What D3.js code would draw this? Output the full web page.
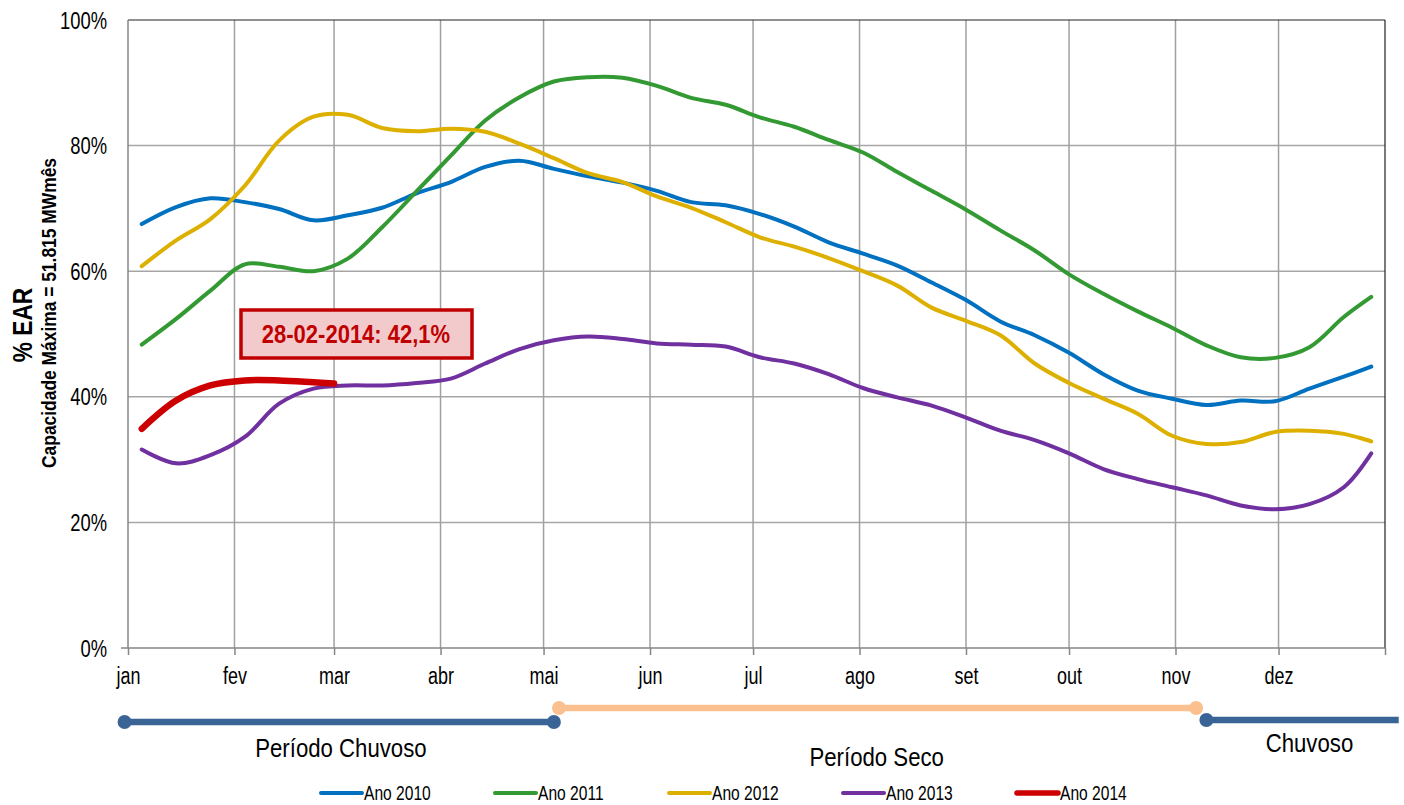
<!DOCTYPE html>
<html lang="pt">
<head>
<meta charset="UTF-8">
<title>% EAR</title>
<script src="https://d3js.org/d3.v7.min.js"></script>
<style>
  html, body { margin: 0; padding: 0; background: #fff; }
  svg { display: block; }
  text { font-family: "Liberation Sans Narrow", "Arial Narrow", "Liberation Sans", Arial, sans-serif; fill: #000; }
</style>
</head>
<body>
<div id="chart"></div>
<script>
// sample positions, days since 1 jan
const days = [4, 14, 24, 34, 44, 54, 64, 74, 84, 94, 104, 114, 124, 134, 144, 154, 164, 174, 184,
  194, 204, 214, 224, 234, 244, 254, 264, 274, 284, 294, 304, 314, 324, 334, 344, 354, 362];

const ano2010 = [67.5, 70.2, 71.6, 71.0, 69.9, 68.1, 68.9, 70.1, 72.4, 74.2, 76.6, 77.6, 76.3, 75.1, 74.1, 72.8, 71.0, 70.5, 69.1,
  67.1, 64.6, 62.8, 60.9, 58.2, 55.4, 52.0, 49.8, 47.0, 43.6, 41.0, 39.7, 38.7, 39.4, 39.3, 41.3, 43.2, 44.8];
const ano2011 = [48.3, 52.4, 56.9, 61.1, 60.7, 60.0, 62.0, 67.0, 72.7, 78.4, 84.0, 87.7, 90.2, 90.9, 90.8, 89.5, 87.6, 86.5, 84.5,
  83.0, 80.9, 78.9, 75.8, 72.8, 69.8, 66.5, 63.3, 59.5, 56.4, 53.6, 51.0, 48.2, 46.3, 46.2, 47.9, 52.7, 55.9];
const ano2012 = [60.8, 64.9, 68.3, 73.6, 80.8, 84.6, 84.9, 82.8, 82.3, 82.7, 82.2, 80.3, 78.0, 75.6, 74.2, 71.9, 70.1, 67.8, 65.4,
  63.9, 62.1, 60.0, 57.7, 54.2, 52.1, 49.8, 45.3, 42.2, 39.7, 37.3, 33.8, 32.5, 32.8, 34.4, 34.6, 34.1, 32.9];
const ano2013 = [31.6, 29.4, 30.7, 33.6, 38.9, 41.3, 41.8, 41.8, 42.2, 42.9, 45.3, 47.6, 49.0, 49.6, 49.2, 48.5, 48.3, 48.0, 46.3,
  45.3, 43.6, 41.4, 39.9, 38.6, 36.7, 34.6, 33.1, 31.0, 28.5, 26.9, 25.6, 24.3, 22.7, 22.1, 22.9, 25.6, 31.0];
const days2014 = [4, 14, 24, 34, 44, 54, 60];
const ano2014 = [34.9, 39.4, 41.8, 42.6, 42.6, 42.3, 42.1];

const seriesNames = ["Ano 2010", "Ano 2011", "Ano 2012", "Ano 2013", "Ano 2014"];
const seriesColors = ["#0070c0", "#339933", "#ddb000", "#7030a0", "#cc0000"];

const months = ["jan", "fev", "mar", "abr", "mai", "jun", "jul", "ago", "set", "out", "nov", "dez"];
const monthStarts = [0, 31, 60, 91, 121, 152, 182, 213, 244, 274, 305, 335];
const yTicks = [0, 20, 40, 60, 80, 100];

// periods under the axis (days)
const periods = [
  { label: "Período Chuvoso", start: -1, end: 124, color: "#3a6496", labelAt: 62, labelY: 757, endDot: true },
  { label: "Período Seco", start: 125.5, end: 311, color: "#fac090", labelAt: 218, labelY: 766, endDot: true },
  { label: "Chuvoso", start: 314, end: 370, color: "#3a6496", labelAt: 344, labelY: 752, endDot: false }
];
const periodY = [722, 708, 720];

const noteText = "28-02-2014: 42,1%";

const width = 1404, height = 805;
const x = d3.scaleLinear().domain([0, 366]).range([128, 1385]);
const y = d3.scaleLinear().domain([0, 100]).range([648, 20]);

// the original uses a condensed face; squeeze the regular one
function squeeze(sel, k) {
  sel.each(function () {
    const w = this.getComputedTextLength();
    if (w > 0) d3.select(this).attr("textLength", w * k).attr("lengthAdjust", "spacingAndGlyphs");
  });
}

const svg = d3.select("#chart").append("svg")
  .attr("width", width)
  .attr("height", height);

// grid
svg.append("g").selectAll("line")
  .data(yTicks.filter(d => d > 0 && d < 100))
  .join("line")
  .attr("x1", x(0)).attr("x2", x(366))
  .attr("y1", d => y(d)).attr("y2", d => y(d))
  .attr("stroke", "#a6a6a6").attr("stroke-width", 1.5);

svg.append("g").selectAll("line")
  .data(monthStarts.slice(1))
  .join("line")
  .attr("x1", d => x(d)).attr("x2", d => x(d))
  .attr("y1", y(100)).attr("y2", y(0))
  .attr("stroke", "#a0a0a0").attr("stroke-width", 1.5);

// frame
svg.append("line").attr("x1", x(0)).attr("x2", x(366)).attr("y1", y(100)).attr("y2", y(100))
  .attr("stroke", "#222").attr("stroke-width", 1.2);
svg.append("line").attr("x1", x(366)).attr("x2", x(366)).attr("y1", y(100)).attr("y2", y(0))
  .attr("stroke", "#222").attr("stroke-width", 1.2);
svg.append("line").attr("x1", x(0)).attr("x2", x(0)).attr("y1", y(100)).attr("y2", y(0))
  .attr("stroke", "#868686").attr("stroke-width", 1.5);

// x axis
const xAxis = svg.append("g")
  .attr("transform", `translate(0,${y(0)})`)
  .call(d3.axisBottom(x)
    .tickValues(monthStarts.concat([366]))
    .tickFormat((d, i) => months[i] || "")
    .tickSize(7)
    .tickSizeOuter(0));
xAxis.select(".domain").attr("stroke", "#868686").attr("stroke-width", 1.5)
  .attr("d", `M${x(0) - 7},0H${x(366)}`);
xAxis.selectAll(".tick line").attr("stroke", "#868686").attr("stroke-width", 1.5);
xAxis.attr("font-family", null);
xAxis.selectAll(".tick text")
  .attr("y", 36).attr("dy", 0)
  .attr("font-size", 23)
  .call(squeeze, 0.78);

// y axis labels
const yAxis = svg.append("g")
  .attr("transform", `translate(${x(0)},0)`)
  .call(d3.axisLeft(y).tickValues(yTicks).tickFormat(d => d + "%").tickSize(0).tickPadding(21));
yAxis.attr("font-family", null);
yAxis.select(".domain").remove();
yAxis.selectAll(".tick text").attr("font-size", 23).attr("dy", "0.35em").call(squeeze, 0.8);

// y title
svg.append("text")
  .attr("transform", "translate(22,325) rotate(-90)")
  .attr("text-anchor", "middle").attr("dy", "0.35em")
  .attr("font-weight", "bold").attr("font-size", 28)
  .text("% EAR")
  .call(squeeze, 0.81);
svg.append("text")
  .attr("transform", "translate(49,313) rotate(-90)")
  .attr("text-anchor", "middle").attr("dy", "0.35em")
  .attr("font-weight", "bold").attr("font-size", 20)
  .text("Capacidade Máxima = 51.815 MWmês")
  .call(squeeze, 0.87);

// lines
const line = d3.line()
  .x(d => x(d[0]))
  .y(d => y(d[1]))
  .curve(d3.curveCatmullRom.alpha(0.5));

const series = [
  d3.zip(days, ano2010),
  d3.zip(days, ano2011),
  d3.zip(days, ano2012),
  d3.zip(days, ano2013),
  d3.zip(days2014, ano2014)
];

svg.append("g").selectAll("path")
  .data(series)
  .join("path")
  .attr("d", line)
  .attr("fill", "none")
  .attr("stroke", (d, i) => seriesColors[i])
  .attr("stroke-width", (d, i) => i === 4 ? 6.5 : 4)
  .attr("stroke-linecap", "round")
  .attr("stroke-linejoin", "round");

// annotation
const note = svg.append("g");
note.append("rect")
  .attr("x", 241).attr("y", 310).attr("width", 231).attr("height", 48)
  .attr("fill", "#f2cacc").attr("stroke", "#c00000").attr("stroke-width", 3.5);
note.append("text")
  .attr("x", 356).attr("y", 334).attr("dy", "0.35em")
  .attr("text-anchor", "middle")
  .attr("font-weight", "bold").attr("font-size", 25)
  .style("fill", "#c00000")
  .text(noteText)
  .call(squeeze, 0.88);

// periods
const pg = svg.append("g");
periods.forEach((p, i) => {
  const py = periodY[i];
  pg.append("line")
    .attr("x1", x(p.start)).attr("x2", x(p.end))
    .attr("y1", py).attr("y2", py)
    .attr("stroke", p.color).attr("stroke-width", 6.5);
  pg.append("circle").attr("cx", x(p.start)).attr("cy", py).attr("r", 7).attr("fill", p.color);
  if (p.endDot) pg.append("circle").attr("cx", x(p.end)).attr("cy", py).attr("r", 7).attr("fill", p.color);
  pg.append("text")
    .attr("x", x(p.labelAt)).attr("y", p.labelY)
    .attr("text-anchor", "middle").attr("font-size", 25.5)
    .text(p.label)
    .call(squeeze, 0.87);
});

// legend
const legend = svg.append("g").attr("transform", "translate(321,793)");
const item = legend.selectAll("g")
  .data(seriesNames)
  .join("g")
  .attr("transform", (d, i) => `translate(${i * 174},0)`);
item.append("line")
  .attr("x1", 0).attr("x2", 41)
  .attr("stroke", (d, i) => seriesColors[i])
  .attr("stroke-width", (d, i) => i === 4 ? 5.5 : 4)
  .attr("stroke-linecap", "round");
item.append("text")
  .attr("x", 43).attr("y", 7)
  .attr("font-size", 19.5)
  .text(d => d)
  .call(squeeze, 0.8);
</script>
</body>
</html>
